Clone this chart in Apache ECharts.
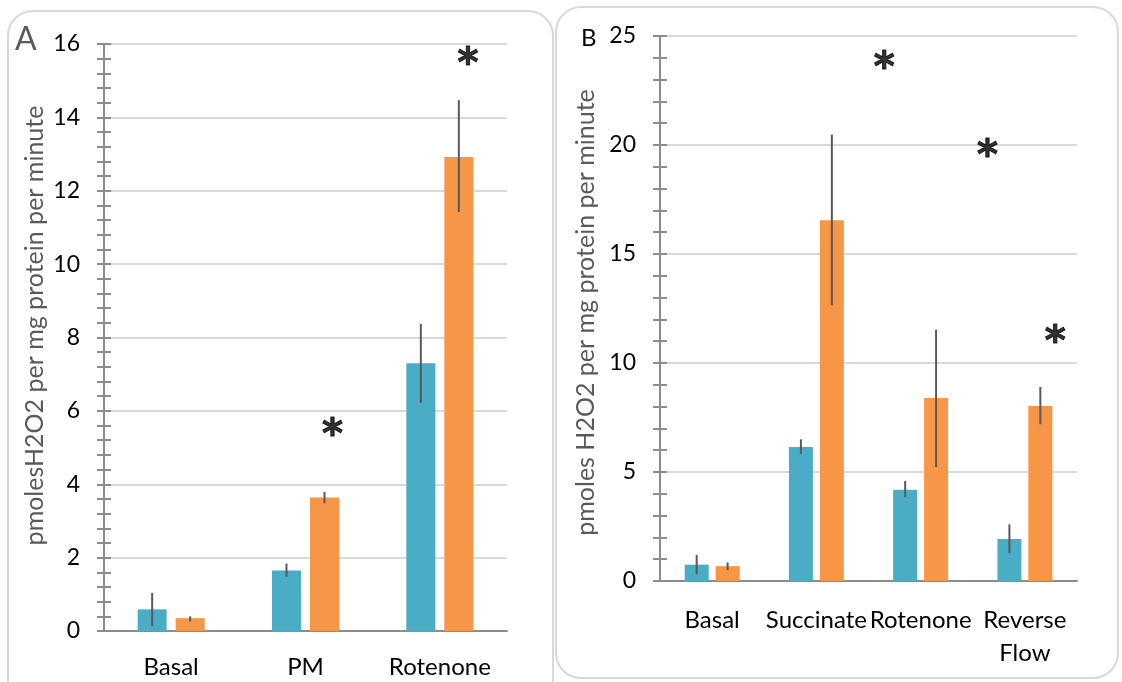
<!DOCTYPE html>
<html>
<head>
<meta charset="utf-8">
<script src="https://cdn.jsdelivr.net/npm/echarts@6/dist/echarts.min.js"></script>
<style>
  html, body { margin: 0; padding: 0; background: #fff; }
  #main { width: 1122px; height: 682px; }
</style>
</head>
<body>
<div id="main"></div>
<script>
// Panel A values
const catsA = ['Basal', 'PM', 'Rotenone']
const blueA = [0.59, 1.65, 7.3]
const orangeA = [0.35, 3.64, 12.92]
const blueErrA = [[0.13, 1.04], [1.48, 1.84], [6.22, 8.37]]
const orangeErrA = [[0.26, 0.4], [3.48, 3.79], [11.42, 14.47]]
const starsA = [[1.7, 5.57], [2.71, 15.69]]

// Panel B values
const catsB = ['Basal', 'Succinate', 'Rotenone', 'Reverse\nFlow']
const blueB = [0.75, 6.15, 4.19, 1.93]
const orangeB = [0.68, 16.55, 8.39, 8.03]
const blueErrB = [[0.3, 1.2], [5.84, 6.5], [3.85, 4.59], [1.28, 2.6]]
const orangeErrB = [[0.5, 0.85], [12.65, 20.48], [5.23, 11.53], [7.19, 8.9]]
const starsB = [[2.15, 23.9], [3.14, 19.9], [3.79, 11.35]]

const FONT = 'Lato'
const BLUE = '#4bacc6'
const ORANGE = '#f79646'

var myChart = echarts.init(document.getElementById('main'))

// error bar drawn at the centre of one bar of a two-bar group
const errSeries = (errs, axisIdx, barFrac, gapFrac, side) => ({
  type: 'custom',
  xAxisIndex: axisIdx.x,
  yAxisIndex: axisIdx.y,
  z: 5,
  data: errs.map((e, i) => [i, e[0], e[1]]),
  renderItem: (params, api) => {
    const lo = api.coord([api.value(0), api.value(1)])
    const hi = api.coord([api.value(0), api.value(2)])
    const bw = api.size([1, 0])[0] * barFrac
    const off = side * bw * (1 + gapFrac) / 2
    return {
      type: 'line',
      shape: { x1: lo[0] + off, y1: lo[1], x2: hi[0] + off, y2: hi[1] },
      style: { stroke: '#595959', lineWidth: 2 }
    }
  }
})

const starSeries = (stars, x, y) => ({
  type: 'scatter',
  xAxisIndex: x,
  yAxisIndex: y,
  symbolSize: 0,
  data: stars,
  label: {
    show: true,
    position: 'inside',
    formatter: '*',
    fontFamily: 'DejaVu Sans',
    fontSize: 40,
    fontWeight: 'bold',
    color: '#000',
    textBorderColor: '#000',
    textBorderWidth: 1,
    offset: [0, 10]
  }
})

const catAxis = (grid, data, lineH) => ({
  type: 'category',
  gridIndex: grid,
  data: data,
  axisLine: { lineStyle: { color: '#8c8c8c', width: 2 } },
  axisTick: { length: 8, lineStyle: { color: '#8c8c8c', width: 2 } },
  axisLabel: { fontFamily: FONT, fontSize: 24, color: '#000', margin: 23, lineHeight: lineH, interval: 0 },
  splitLine: { show: false }
})

const midTickAxis = (grid, data) => ({
  type: 'category',
  gridIndex: grid,
  data: data,
  axisLine: { show: false },
  axisTick: { alignWithLabel: true, length: 8, lineStyle: { color: '#8c8c8c', width: 2 } },
  axisLabel: { show: false }
})

const starAxis = (grid, max) => ({
  type: 'value', gridIndex: grid, min: 0, max: max, show: false
})

const valAxis = (grid, max, interval, name, gap, pad) => ({
  type: 'value',
  gridIndex: grid,
  min: 0,
  max: max,
  interval: interval,
  name: name,
  nameLocation: 'middle',
  nameGap: gap,
  nameTextStyle: { fontFamily: FONT, fontSize: 25, color: '#595959', padding: pad },
  axisLine: { show: true, lineStyle: { color: '#8c8c8c', width: 2 } },
  axisTick: { show: true, length: 7, lineStyle: { color: '#8c8c8c', width: 2 } },
  minorTick: { show: true, splitNumber: 5, length: 7, lineStyle: { color: '#8c8c8c', width: 2 } },
  axisLabel: { fontFamily: FONT, fontSize: 23, color: '#000', margin: 24 },
  splitLine: { lineStyle: { color: '#d9d9d9', width: 2 } }
})

// second copy of the value axis, only for the ticks on the inner side
const innerTickAxis = (grid, max, interval) => ({
  type: 'value',
  gridIndex: grid,
  min: 0,
  max: max,
  interval: interval,
  position: 'left',
  axisLine: { show: false },
  axisTick: { show: true, inside: true, length: 7, lineStyle: { color: '#8c8c8c', width: 2 } },
  minorTick: { show: true, splitNumber: 5, length: 7, lineStyle: { color: '#8c8c8c', width: 2 } },
  axisLabel: { show: false },
  splitLine: { show: false }
})

const barSeries = (data, color, x, y, w, gap) => ({
  type: 'bar',
  xAxisIndex: x,
  yAxisIndex: y,
  data: data,
  barWidth: w,
  barGap: gap,
  itemStyle: { color: color },
  z: 3
})

const option = {
  animation: false,
  backgroundColor: '#fff',
  grid: [
    { left: 104, top: 44, width: 403, height: 587 },
    { left: 660, top: 36, width: 417, height: 545 }
  ],
  xAxis: [
    catAxis(0, catsA, 26),
    midTickAxis(0, catsA),
    starAxis(0, 3),
    catAxis(1, catsB, 33),
    midTickAxis(1, catsB),
    starAxis(1, 4)
  ],
  yAxis: [
    valAxis(0, 16, 2, 'pmolesH2O2 per mg protein per minute', 57, [0, 0, 0, 24]),
    innerTickAxis(0, 16, 2),
    valAxis(1, 25, 5, 'pmoles H2O2 per mg protein per minute', 62, [0, 8, 0, 0]),
    innerTickAxis(1, 25, 5)
  ],
  series: [
    barSeries(blueA, BLUE, 0, 0, '21.6%', '31%'),
    barSeries(orangeA, ORANGE, 0, 0, '21.6%', '31%'),
    errSeries(blueErrA, { x: 0, y: 0 }, 0.216, 0.31, -1),
    errSeries(orangeErrA, { x: 0, y: 0 }, 0.216, 0.31, 1),
    starSeries(starsA, 2, 0),
    barSeries(blueB, BLUE, 3, 2, '23%', '29%'),
    barSeries(orangeB, ORANGE, 3, 2, '23%', '29%'),
    errSeries(blueErrB, { x: 3, y: 2 }, 0.23, 0.29, -1),
    errSeries(orangeErrB, { x: 3, y: 2 }, 0.23, 0.29, 1),
    starSeries(starsB, 5, 2)
  ],
  graphic: [
    { type: 'rect', z: -1, shape: { x: 8, y: 11, width: 545, height: 700, r: 25 },
      style: { fill: 'none', stroke: '#d9d9d9', lineWidth: 2 } },
    { type: 'rect', z: -1, shape: { x: 556, y: 7, width: 562, height: 671, r: 25 },
      style: { fill: 'none', stroke: '#d9d9d9', lineWidth: 2 } },
    { type: 'text', left: 15, top: 24,
      style: { text: 'A', font: '32px Lato', fill: '#595959' } },
    { type: 'text', left: 581, top: 26,
      style: { text: 'B', font: '24px Lato', fill: '#000' } }
  ]
}

myChart.setOption(option)
</script>
</body>
</html>
